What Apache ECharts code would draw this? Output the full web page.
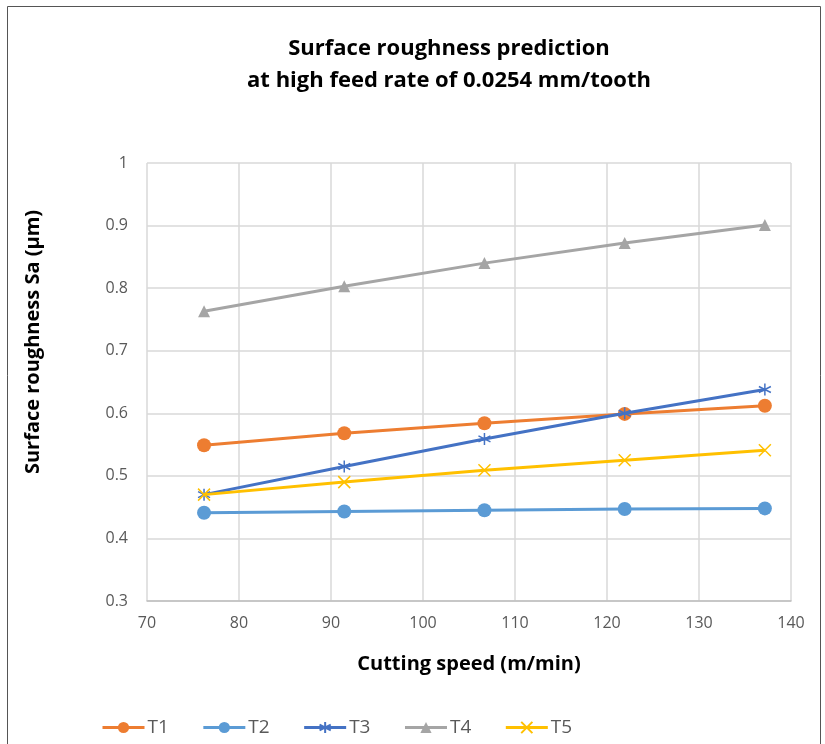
<!DOCTYPE html>
<html><head><meta charset="utf-8">
<script src="https://cdn.jsdelivr.net/npm/echarts@6/dist/echarts.min.js"></script>
<style>html,body{margin:0;padding:0;background:#fff}#c{width:825px;height:744px}</style>
</head><body><div id="c"></div>
<script>
const speeds = [76.2, 91.44, 106.68, 121.92, 137.16];
const T1 = [0.549, 0.568, 0.584, 0.599, 0.612];
const T2 = [0.441, 0.443, 0.445, 0.447, 0.448];
const T3 = [0.470, 0.515, 0.559, 0.600, 0.638];
const T4 = [0.763, 0.803, 0.840, 0.872, 0.901];
const T5 = [0.470, 0.490, 0.509, 0.525, 0.541];
const seriesNames = ['T1','T2','T3','T4','T5'];
const seriesData = [T1, T2, T3, T4, T5];
const colors = ['#ED7D31','#5B9BD5','#4472C4','#A5A5A5','#FFC000'];
const symbols = ['circle','circle',
  'path://M5,0 L5,10 M0.7,2.5 L9.3,7.5 M0.7,7.5 L9.3,2.5',
  'triangle',
  'path://M0,0 L10,10 M10,0 L0,10'];
const sizes = [14, 14, 12, 12, 12];
const font = 'Open Sans, Noto Sans, sans-serif';

const chart = echarts.init(document.getElementById('c'));
chart.setOption({
  animation: false,
  title: {
    text: 'Surface roughness prediction\nat high feed rate of 0.0254 mm/tooth',
    left: 444, top: 28, textAlign: 'center',
    textStyle: {fontFamily: font, fontSize: 22, fontWeight: 'bold', color: '#000', lineHeight: 32}
  },
  graphic: [{type:'rect', shape:{x:7.5,y:6.5,width:813,height:760}, style:{fill:null, stroke:'#555', lineWidth:1}, silent:true}],
  legend: {
    bottom: 2, left: 96, itemWidth: 42, itemHeight: 14, itemGap: 33,
    lineStyle: {width: 3},
    textStyle: {fontFamily: font, fontSize: 19, color: '#595959', padding: [0,0,0,-2]},
    data: seriesNames
  },
  grid: {left: 147, right: 34, top: 163, bottom: 143},
  xAxis: {
    type: 'value', min: 70, max: 140, interval: 10,
    name: 'Cutting speed (m/min)', nameLocation: 'middle', nameGap: 53,
    nameTextStyle: {fontFamily: font, fontSize: 20, fontWeight: 'bold', color: '#000'},
    axisLine: {lineStyle: {color: '#bfbfbf', width: 1.5}},
    axisTick: {show: false},
    axisLabel: {fontFamily: font, fontSize: 16, color: '#595959', margin: 14},
    splitLine: {show: true, lineStyle: {color: '#d9d9d9', width: 1.5}}
  },
  yAxis: {
    type: 'value', min: 0.3, max: 1, interval: 0.1,
    name: 'Surface roughness Sa (\u00b5m)', nameLocation: 'middle', nameGap: 104,
    nameTextStyle: {fontFamily: font, fontSize: 20, fontWeight: 'bold', color: '#000', padding: [0,0,0,80]},
    axisLine: {show: false},
    axisTick: {show: false},
    axisLabel: {fontFamily: font, fontSize: 16, color: '#595959', margin: 19,
      formatter: v => String(Math.round(v*10)/10)},
    splitLine: {show: true, lineStyle: {color: '#d9d9d9', width: 1.5}}
  },
  series: seriesNames.map((n, i) => ({
    name: n, type: 'line',
    data: speeds.map((x, j) => [x, seriesData[i][j]]),
    symbol: symbols[i], symbolSize: sizes[i],
    lineStyle: {color: colors[i], width: 3},
    itemStyle: {color: colors[i], borderColor: colors[i], borderWidth: (i===2||i===4) ? 1.5 : 0},
    z: [2,2,4,2,5][i]
  }))
});
</script></body></html>
